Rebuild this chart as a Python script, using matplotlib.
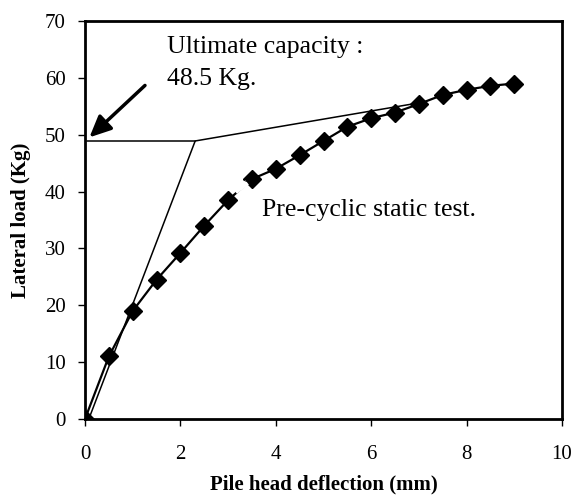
import matplotlib

matplotlib.use("Agg")
import matplotlib.pyplot as plt  # noqa: E402

plt.rcParams["font.family"] = ["Liberation Serif", "DejaVu Serif"]

# measured load-deflection curve (pre-cyclic static test)
deflection = [0, 0.5, 1.0, 1.5, 2.0, 2.5, 3.0, 3.5, 4.0, 4.5, 5.0, 5.5, 6.0, 6.5, 7.0, 7.5, 8.0, 8.5, 9.0]
load = [0, 11, 19, 24.5, 29.2, 34, 38.5, 42.2, 44, 46.4, 48.9, 51.4, 52.9, 53.9, 55.4, 57.0, 57.9, 58.6, 59.0]

# tangent construction for the ultimate capacity
tangent_x = [0.08, 2.31, 7.0]
tangent_y = [0, 48.9, 55.6]
ultimate_x = [0.05, 2.31]
ultimate_y = [48.9, 48.9]

fig = plt.figure(figsize=(5.85, 4.98), dpi=100)
ax = fig.add_axes([85 / 585, 1 - 419 / 498, 477 / 585, 398 / 498])

ax.plot(tangent_x, tangent_y, color="black", lw=1.1, zorder=2)
ax.plot(ultimate_x, ultimate_y, color="black", lw=1.1, zorder=2)
ax.plot(deflection, load, color="black", lw=1.6, marker="D", markersize=9.5, zorder=3)

# arrow to the ultimate capacity
ax.annotate("", xy=(0.05, 49.2), xytext=(1.3, 59.0),
            arrowprops=dict(arrowstyle="-|>,head_length=1.3,head_width=0.6", color="black", lw=2.5))
ax.text(1.72, 64.4, "Ultimate capacity :", fontsize=18.5, va="baseline")
ax.text(1.72, 58.7, "48.5 Kg.", fontsize=18.5, va="baseline")

# small arrow to the curve
ax.plot([3.15, 3.4], [40.0, 41.6], color="white", lw=4, zorder=4, solid_capstyle="butt")
ax.annotate("", xy=(3.3, 41.6), xytext=(3.7, 43.0),
            arrowprops=dict(arrowstyle="-|>,head_length=0.7,head_width=0.35", color="black", lw=0.5),
            zorder=5)
ax.text(3.71, 35.75, "Pre-cyclic static test.", fontsize=18.5, va="baseline")

ax.set_xlim(0, 10)
ax.set_ylim(0, 70)
ax.set_xticks(range(0, 11, 2))
ax.set_yticks(range(0, 71, 10))
ax.tick_params(direction="out", length=5, width=1, labelsize=15, pad=9)
ax.tick_params(axis="x", pad=14)
for s in ax.spines.values():
    s.set_linewidth(2)

ax.set_xlabel("Pile head deflection (mm)", fontsize=15, fontweight="bold", labelpad=7)
ax.set_ylabel("Lateral load (Kg)", fontsize=15, fontweight="bold", labelpad=10)

fig.savefig("out.png", dpi=100)
